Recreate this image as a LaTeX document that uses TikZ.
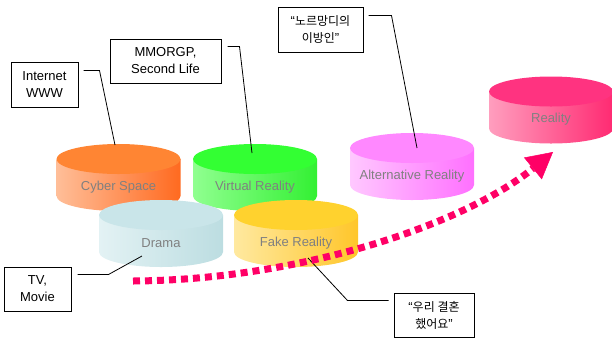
\documentclass[tikz,border=0pt]{standalone}
\usepackage{fontspec}
\setmainfont{Liberation Sans}
\newfontfamily\krfont{Noto Sans CJK KR}
\usetikzlibrary{arrows.meta,calc}

% drum colours: top face, light side, dark side
\definecolor{cyberTop}{HTML}{FF8533}\definecolor{cyberL}{HTML}{FFBE98}\definecolor{cyberD}{HTML}{FF6A20}
\definecolor{virtTop}{HTML}{33FF33}\definecolor{virtL}{HTML}{90FF90}\definecolor{virtD}{HTML}{33F033}
\definecolor{dramaTop}{HTML}{C9E5E9}\definecolor{dramaL}{HTML}{E3F2F4}\definecolor{dramaD}{HTML}{BCDDE1}
\definecolor{fakeTop}{HTML}{FFD22E}\definecolor{fakeL}{HTML}{FFE9A0}\definecolor{fakeD}{HTML}{FFC62A}
\definecolor{altTop}{HTML}{FF88FF}\definecolor{altL}{HTML}{FFC8FF}\definecolor{altD}{HTML}{FF70FF}
\definecolor{realTop}{HTML}{FF3380}\definecolor{realL}{HTML}{FF9EBE}\definecolor{realD}{HTML}{FF2A72}
\definecolor{labelGray}{HTML}{808080}
\definecolor{trendPink}{HTML}{FF0066}

\newcommand{\ko}[1]{{\krfont\fontsize{12}{17}\selectfont #1}}

% #1 name, #2 centre x, #3 top centre y, #4 top colour, #5 light side, #6 dark side, #7 label
\newcommand{\drum}[7]{%
  \shade[left color=#5, right color=#6]
    ({#2-62},#3) -- ({#2-62},{#3+37})
    arc[start angle=180, end angle=360, x radius=62pt, y radius=15pt]
    -- ({#2+62},#3) -- cycle;
  \fill[#4] (#2,#3) ellipse[x radius=62pt, y radius=15pt];
  \node[drumlabel] (#1) at (#2,{#3+28}) {#7};
}

\begin{document}
\begin{tikzpicture}[x=1pt, y=-1pt,
  drumlabel/.style={text=labelGray, font=\fontsize{13}{15}\selectfont, inner sep=0pt},
  callout/.style={draw=black, line width=1pt, fill=white, align=center, inner sep=0pt,
                  font=\fontsize{13}{17}\selectfont},
  leader/.style={draw=black, line width=0.8pt},
  trend/.style={draw=trendPink, line width=7pt, dash pattern=on 7pt off 5pt,
                -{Triangle[length=26pt, width=28pt, line width=0.5pt]}}]
\useasboundingbox (0,0) rectangle (612,338);

% back row of drums
\drum{cyber}{118.5}{159}{cyberTop}{cyberL}{cyberD}{Cyber Space}
\drum{virtual}{255}{159}{virtTop}{virtL}{virtD}{Virtual Reality}
\drum{alternative}{412}{148}{altTop}{altL}{altD}{Alternative Reality}
\drum{reality}{551}{91.5}{realTop}{realL}{realD}{Reality}
% front row of drums
\drum{drama}{161}{215}{dramaTop}{dramaL}{dramaD}{Drama}
\drum{fake}{296}{215}{fakeTop}{fakeL}{fakeD}{Fake Reality}

% points where the callout leaders touch the drums
\coordinate (cyberpin) at (115,145);
\coordinate (virtpin) at (252,153);
\coordinate (altpin) at (417,148);
\coordinate (dramapin) at (142,256);
\coordinate (fakepin) at (308,258);

% callout boxes
\node[callout, minimum width=67pt, minimum height=45pt] (inet) at (44.5,84.5) {Internet\\WWW};
\node[callout, minimum width=111pt, minimum height=44pt] (mmo) at (165.5,61) {MMORGP,\\Second Life};
\node[callout, minimum width=85pt, minimum height=45pt] (nor) at (320.5,29.5) {“\ko{노르망디의}\\\ko{이방인}”};
\node[callout, minimum width=67pt, minimum height=44pt] (tv) at (37.5,289) {TV,\\Movie};
\node[callout, minimum width=80pt, minimum height=44pt] (wed) at (434,315) {“\ko{우리 결혼}\\\ko{했어요}”};

% leaders
\draw[leader] ($(inet.north east)+(5,9)$) -- ++(16,0) -- (cyberpin);
\draw[leader] ($(mmo.north east)+(6,8)$) -- ++(12,0) -- (virtpin);
\draw[leader] ($(nor.north east)+(5,9)$) -- ++(23,0) -- (altpin);
\draw[leader] ($(tv.north east)+(6,8)$) -- ++(31,0) -- (dramapin);
\draw[leader] ($(wed.north west)+(-5,8)$) -- ++(-41,0) -- (fakepin);

% dotted trend arrow towards reality
\coordinate (trendstart) at (133,281);
\coordinate (trendtip) at (553,152);
\draw[trend] (trendstart) .. controls (300,280) and (465,224) .. (trendtip);
\end{tikzpicture}
\end{document}
